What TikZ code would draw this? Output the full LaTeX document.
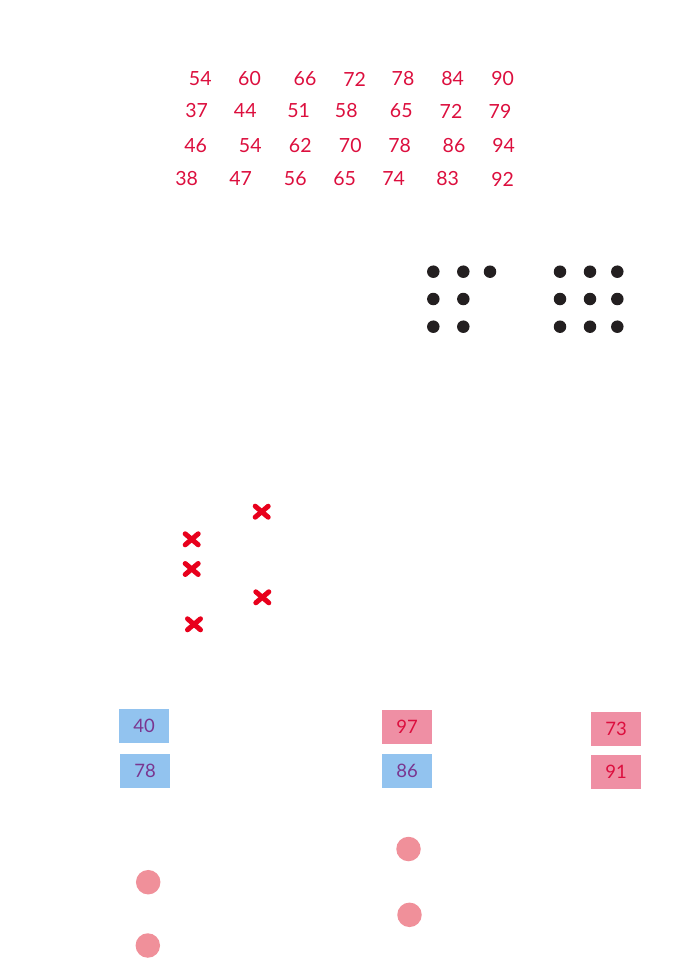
\documentclass[tikz,border=0pt]{standalone}
\usepackage{fontspec}
\setmainfont{Lato}
\definecolor{numred}{HTML}{DC0F3E}
\definecolor{crossred}{HTML}{E8001C}
\definecolor{boxblue}{HTML}{92C3EF}
\definecolor{boxpink}{HTML}{EF8FA4}
\definecolor{boxpurple}{HTML}{7A3690}
\definecolor{dotblack}{HTML}{231F20}
\definecolor{circpink}{HTML}{F0909A}
\tikzset{
  num/.style={text=numred, font=\fontsize{19.5}{21}\selectfont, inner sep=0pt},
  bluebox/.style={fill=boxblue, text=boxpurple, minimum width=50pt, minimum height=34pt, inner sep=0pt, font=\fontsize{18.5}{20}\selectfont},
  pinkbox/.style={fill=boxpink, text=numred, minimum width=50pt, minimum height=34pt, inner sep=0pt, font=\fontsize{18.5}{20}\selectfont},
  dotnode/.style={circle, fill=dotblack, minimum size=12.5pt, inner sep=0pt},
  pinkdot/.style={circle, fill=circpink, minimum size=24.5pt, inner sep=0pt},
  crossmark/.style={crossred, line width=5pt, line cap=round}
}
\begin{document}
\begin{tikzpicture}[x=1pt,y=-1pt]
\useasboundingbox (0,0) rectangle (672,979);
% number grid
\foreach \v/\x [count=\i] in {54/200.3,60/249.5,66/305,72/354.7,78/403,84/452.7,90/502.7}
  \node[num] (ra\i) at (\x,79) {\v};
\foreach \v/\x [count=\i] in {37/196.7,44/245.3,51/298.7,58/346.3,65/401.3,72/451,79/500}
  \node[num] (rb\i) at (\x,111) {\v};
\foreach \v/\x [count=\i] in {46/195.7,54/250.3,62/300.3,70/350.3,78/399.7,86/454,94/503.7}
  \node[num] (rc\i) at (\x,145.7) {\v};
\foreach \v/\x [count=\i] in {38/186.7,47/240.7,56/295.3,65/344.7,74/393.7,83/447.7,92/502.7}
  \node[num] (rd\i) at (\x,179) {\v};
% dots left group
\node[dotnode] (l11) at (433.3,271.7) {};
\node[dotnode] (l12) at (463.3,271.7) {};
\node[dotnode] (l13) at (490,271.7) {};
\node[dotnode] (l21) at (433.3,299) {};
\node[dotnode] (l22) at (463.3,299) {};
\node[dotnode] (l31) at (433.3,326.7) {};
\node[dotnode] (l32) at (463.3,326.7) {};
% dots right group
\foreach \r/\y in {1/271.7,2/299,3/326.7}
  \foreach \c/\x in {1/560,2/590,3/617.3}
    \node[dotnode] (r\r\c) at (\x,\y) {};
% crosses
\foreach \x/\y [count=\i] in {261.7/511.7,191.7/539.3,191.7/569,262.3/597.3,194/624.3}{
  \coordinate (x\i) at (\x,\y);
  \draw[crossmark] ([shift={(-6.5,-5.5)}]x\i) -- ([shift={(6.5,5.5)}]x\i);
  \draw[crossmark] ([shift={(-6.5,5.5)}]x\i) -- ([shift={(6.5,-5.5)}]x\i);
}
% boxes
\node[bluebox] (b40) at (144,726) {40};
\node[bluebox] (b78) at (145,771) {78};
\node[pinkbox] (b97) at (407,727) {97};
\node[bluebox] (b86) at (407,771) {86};
\node[pinkbox] (b73) at (616,729) {73};
\node[pinkbox] (b91) at (616,772) {91};
% pink circles
\node[pinkdot] (c1) at (148.2,882.2) {};
\node[pinkdot] (c2) at (147.8,945.5) {};
\node[pinkdot] (c3) at (408.5,849) {};
\node[pinkdot] (c4) at (409.5,914.8) {};
\end{tikzpicture}
\end{document}
